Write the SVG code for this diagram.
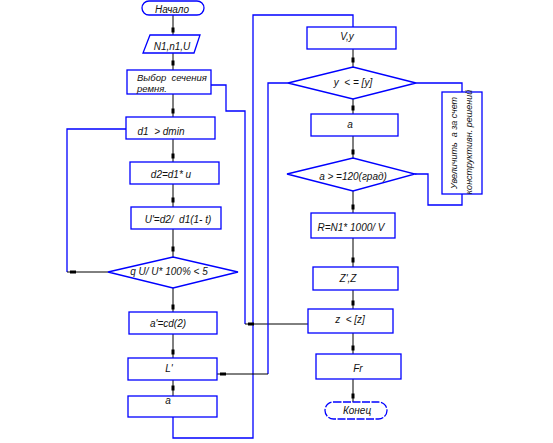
<svg xmlns="http://www.w3.org/2000/svg" width="553" height="443" viewBox="0 0 553 443">
<style>
.b{fill:#fff;stroke:#0000ff;stroke-width:1.3}
.t{font-family:"Liberation Sans",Arial,sans-serif;font-style:italic;font-size:10px;fill:#111;white-space:pre}
.m{text-anchor:middle}
.cb{fill:none;stroke:#0000ff;stroke-width:1.3}
.ck{fill:none;stroke:#000;stroke-width:1}
.mk{fill:#000}
</style>
<rect width="553" height="443" fill="#fff"/>
<g id="connectors">
<path class="ck" d="M173,15V35M173,53V70M173,94V117M173,139V162M173,184V207M173,229V257M173,288V312M173,334V358M173,380V396"/>
<path class="ck" d="M353,49V67M353,99V114M353,136V158M353,191V213M353,238V267M353,290V309M353,333V354M353,379V402"/>
<path class="cb" d="M173,417V438H253V15H353V27"/>
<path class="cb" d="M126,129H67V272"/>
<path class="ck" d="M67,272H108"/>
<path class="cb" d="M211,85H226V111H245V324"/>
<path class="ck" d="M245,324H308"/>
<path class="cb" d="M288,83H268V374"/>
<path class="ck" d="M268,374H217"/>
<path class="cb" d="M416,83H462V92"/>
<path class="cb" d="M415,174H428V205H462V194"/>
<g class="mk">
<rect x="171.5" y="27.5" width="3" height="5"/>
<rect x="171.5" y="60.5" width="3" height="5"/>
<rect x="171.5" y="108.5" width="3" height="5"/>
<rect x="171.5" y="153.5" width="3" height="5"/>
<rect x="171.5" y="197.5" width="3" height="5"/>
<rect x="171.5" y="246.5" width="3" height="5"/>
<rect x="171.5" y="304.5" width="3" height="5"/>
<rect x="171.5" y="349.5" width="3" height="5"/>
<rect x="171.5" y="385.5" width="3" height="5"/>
<rect x="351.5" y="57.5" width="3" height="5"/>
<rect x="351.5" y="105.5" width="3" height="5"/>
<rect x="351.5" y="149.5" width="3" height="5"/>
<rect x="351.5" y="204.5" width="3" height="5"/>
<rect x="351.5" y="257.5" width="3" height="5"/>
<rect x="351.5" y="300.5" width="3" height="5"/>
<rect x="351.5" y="345.5" width="3" height="5"/>
<rect x="351.5" y="393.5" width="3" height="5"/>
<rect x="70" y="270.5" width="6" height="3"/>
<rect x="248" y="322.5" width="6" height="3"/>
<rect x="220" y="372.5" width="6" height="3"/>
</g>
</g>
<g id="start"><rect class="b" x="142" y="1" width="62" height="14" rx="7"/><text class="t m" x="172" y="13">Начало</text></g>
<g id="input"><polygon class="b" points="150,35 200,35 194,53 143,53"/><text class="t m" x="172" y="50">N1,n1,U</text></g>
<g id="select"><rect class="b" x="127" y="70" width="84" height="24"/><text class="t" style="font-size:9.5px" x="137" y="81">Выбор  сечения</text><text class="t" style="font-size:9.5px" x="137" y="91.5">ремня.</text></g>
<g id="d1"><rect class="b" x="126" y="117" width="89" height="22"/><text class="t m" x="161" y="135">d1  &gt; dmin</text></g>
<g id="d2"><rect class="b" x="130" y="162" width="89" height="22"/><text class="t m" x="171" y="178">d2=d1* u</text></g>
<g id="u"><rect class="b" x="131" y="207" width="90" height="22"/><text class="t m" x="178" y="223">U'=d2/  d1(1- t)</text></g>
<g id="check-u"><polygon class="b" points="108,272 173,257 238,272 173,288"/><text class="t m" x="169" y="275">q U/ U* 100% &lt; 5</text></g>
<g id="a1"><rect class="b" x="129" y="312" width="88" height="22"/><text class="t m" x="168" y="327">a'=cd(2)</text></g>
<g id="L"><rect class="b" x="128" y="358" width="89" height="22"/><text class="t m" x="169" y="372">L'</text></g>
<g id="a2"><rect class="b" x="128" y="396" width="89" height="21"/><text class="t m" x="168" y="404">a</text></g>
<g id="vy"><rect class="b" x="307" y="27" width="89" height="22"/><text class="t m" x="347" y="40">V,y</text></g>
<g id="check-y"><polygon class="b" points="288,83 353,67 416,83 353,99"/><text class="t m" x="353" y="86">y  &lt; = [y]</text></g>
<g id="a3"><rect class="b" x="311" y="114" width="87" height="22"/><text class="t m" x="350" y="128">a</text></g>
<g id="check-a"><polygon class="b" points="287,174 353,158 415,174 353,191"/><text class="t m" x="353" y="180">a &gt; =120(град)</text></g>
<g id="increase"><rect class="b" x="442" y="92" width="40" height="102"/><text class="t m" style="font-size:9px" transform="translate(457,143) rotate(-90)">Увеличить  а за счет</text><text class="t m" style="font-size:9px" transform="translate(472,142) rotate(-90)">конструктивн. решений</text></g>
<g id="R"><rect class="b" x="311" y="213" width="84" height="25"/><text class="t m" x="351" y="231">R=N1* 1000/ V</text></g>
<g id="Z"><rect class="b" x="313" y="267" width="85" height="23"/><text class="t m" x="348" y="282">Z',Z</text></g>
<g id="check-z"><rect class="b" x="308" y="309" width="85" height="24"/><text class="t m" x="350" y="323">z  &lt; [z]</text></g>
<g id="Fr"><rect class="b" x="316" y="354" width="85" height="25"/><text class="t m" x="358" y="372">Fr</text></g>
<g id="end"><rect class="b" x="325" y="402" width="62" height="17" rx="8.5" stroke-dasharray="8 1.5"/><text class="t m" x="357" y="414">Конец</text></g>
</svg>
